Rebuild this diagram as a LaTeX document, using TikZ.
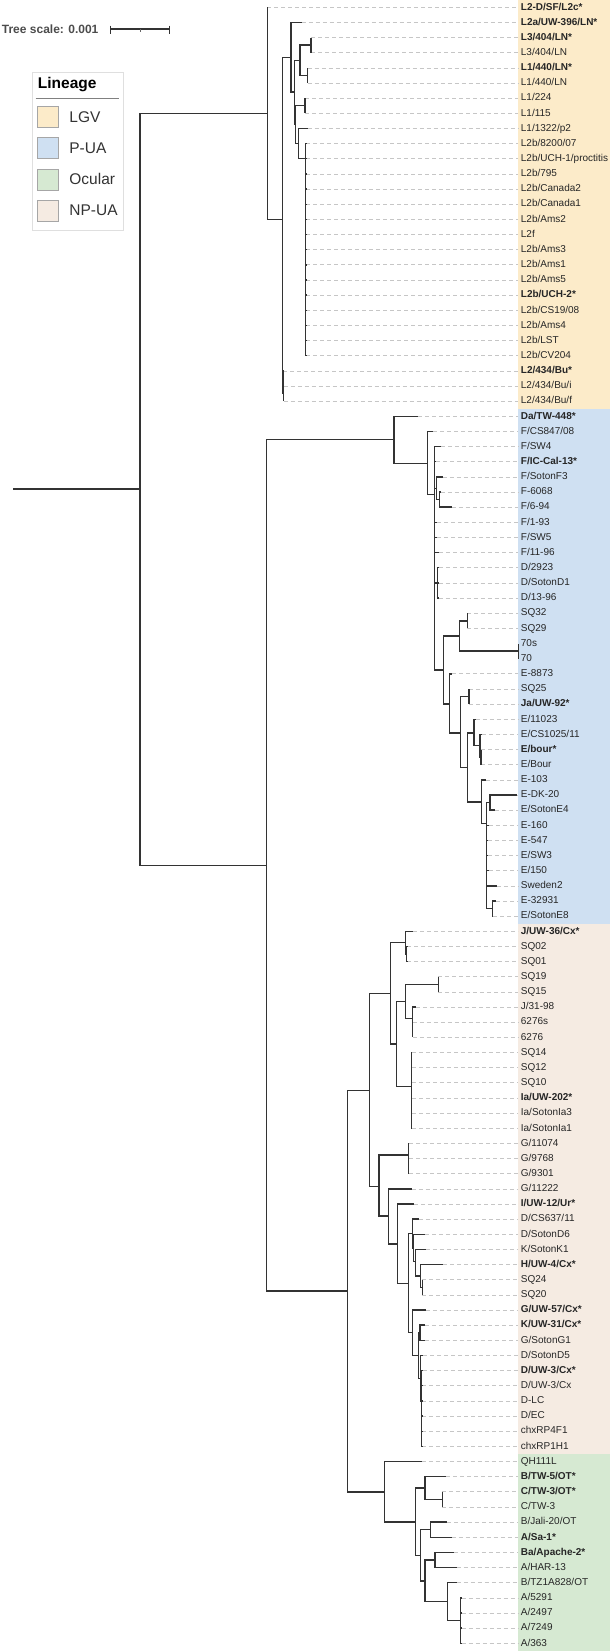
\documentclass[tikz,border=0pt]{standalone}
\usepackage{fontspec}
\setmainfont{Liberation Sans}
\usetikzlibrary{positioning}
\definecolor{lgvcol}{HTML}{FCEBC9}
\definecolor{puacol}{HTML}{CFE0F2}
\definecolor{occol}{HTML}{D6E9D2}
\definecolor{npcol}{HTML}{F5EBE2}
\tikzset{br/.style={line width=1.4pt,black!80},
  lead/.style={gray!45,line width=0.7pt,dash pattern=on 4pt off 3pt},
  lab/.style={anchor=west,inner sep=0pt,inner xsep=2.4pt,text height=7.5pt,text depth=2pt,font=\fontsize{10}{12}\selectfont,text=black!85},
  swatch/.style={draw=gray!70,fill=#1,minimum size=21pt,inner sep=0pt},
  legtext/.style={anchor=west,inner sep=0pt,font=\fontsize{15.5}{18}\selectfont,text=black!80}}
\newcommand{\taxon}[3]{\coordinate (t#1) at (#2,#1);
  \node[lab] (l#1) at (518.3,#1) {#3};
  \draw[lead] (t#1) -- (l#1.west);}
\newcommand{\clade}[2]{\foreach \kid in {#2} {\draw[br] (#1) |- (\kid);}}
\newcommand{\fan}[3]{\foreach \k in {#2,...,#3} {\draw[br] (#1) |- (t\k);}}

\begin{document}
\begin{tikzpicture}[x=1pt,y=-1pt]
\useasboundingbox (0,0) rectangle (610,1652);
\fill[lgvcol] (518.3,0) rectangle (609.5,408.5);
\fill[puacol] (518.3,408.5) rectangle (609.5,923.8);
\fill[npcol] (518.3,923.8) rectangle (609.5,1453.9);
\fill[occol] (518.3,1453.9) rectangle (609.5,1651);

\node[anchor=west,inner sep=0pt,font=\bfseries\fontsize{12}{14}\selectfont,text=black!70] (scaletxt) at (1.7,29) {Tree scale: 0.001};
\coordinate (sb0) at (110.7,29.3);
\coordinate (sb1) at (169.3,29.3);
\draw[line width=1.7pt,black!80] (sb0) -- (sb1);
\draw[line width=1.2pt,black!80] (110.7,25.5) -- (110.7,33.5);
\draw[line width=1.2pt,black!80] (169.3,25.5) -- (169.3,33.5);
\draw[line width=0.8pt,black!60] (140,29.3) -- (140,31.7);

\draw[gray!25,fill=white] (32.3,72.3) rectangle (123.3,230);
\node[anchor=west,inner sep=0pt,font=\bfseries\fontsize{15.5}{18}\selectfont] (legtitle) at (37.7,85) {Lineage};
\draw[gray,line width=1pt] (35.7,98.7) -- (119.3,98.7);
\node[swatch=lgvcol] (sw1) at (47.8,116.7) {};
\node[swatch=puacol] (sw2) at (47.8,147.8) {};
\node[swatch=occol] (sw3) at (47.8,179.2) {};
\node[swatch=npcol] (sw4) at (47.8,210.5) {};
\node[legtext,right=10.7pt of sw1] (lg1) {LGV};
\node[legtext,right=10.7pt of sw2] (lg2) {P-UA};
\node[legtext,right=10.7pt of sw3] (lg3) {Ocular};
\node[legtext,right=10.7pt of sw4] (lg4) {NP-UA};

\begin{scope}[y=-15.148pt,yshift=-7.3pt]
\taxon{0}{267.3}{\textbf{L2-D/SF/L2c*}}
\taxon{1}{301.7}{\textbf{L2a/UW-396/LN*}}
\taxon{2}{311}{\textbf{L3/404/LN*}}
\taxon{3}{311}{L3/404/LN}
\taxon{4}{307.7}{\textbf{L1/440/LN*}}
\taxon{5}{307.7}{L1/440/LN}
\taxon{6}{305}{L1/224}
\taxon{7}{305}{L1/115}
\taxon{8}{307.7}{L1/1322/p2}
\taxon{9}{306}{L2b/8200/07}
\taxon{10}{306}{L2b/UCH-1/proctitis}
\taxon{11}{306}{L2b/795}
\taxon{12}{306}{L2b/Canada2}
\taxon{13}{306}{L2b/Canada1}
\taxon{14}{306}{L2b/Ams2}
\taxon{15}{306}{L2f}
\taxon{16}{306}{L2b/Ams3}
\taxon{17}{306}{L2b/Ams1}
\taxon{18}{306}{L2b/Ams5}
\taxon{19}{306}{\textbf{L2b/UCH-2*}}
\taxon{20}{306}{L2b/CS19/08}
\taxon{21}{306}{L2b/Ams4}
\taxon{22}{306}{L2b/LST}
\taxon{23}{306}{L2b/CV204}
\taxon{24}{283}{\textbf{L2/434/Bu*}}
\taxon{25}{283.5}{L2/434/Bu/i}
\taxon{26}{283.5}{L2/434/Bu/f}
\taxon{27}{418.3}{\textbf{Da/TW-448*}}
\taxon{28}{433.3}{F/CS847/08}
\taxon{29}{441}{F/SW4}
\taxon{30}{436}{\textbf{F/IC-Cal-13*}}
\taxon{31}{442.7}{F/SotonF3}
\taxon{32}{440.7}{F-6068}
\taxon{33}{451.7}{F/6-94}
\taxon{34}{437}{F/1-93}
\taxon{35}{437}{F/SW5}
\taxon{36}{439}{F/11-96}
\taxon{37}{439}{D/2923}
\taxon{38}{438.5}{D/SotonD1}
\taxon{39}{438.5}{D/13-96}
\taxon{40}{467.3}{SQ32}
\taxon{41}{467.3}{SQ29}
\taxon{42}{518.3}{70s}
\taxon{43}{518.3}{70}
\taxon{44}{452}{E-8873}
\taxon{45}{469}{SQ25}
\taxon{46}{469}{\textbf{Ja/UW-92*}}
\taxon{47}{475.7}{E/11023}
\taxon{48}{482.3}{E/CS1025/11}
\taxon{49}{481}{\textbf{E/bour*}}
\taxon{50}{481}{E/Bour}
\taxon{51}{486}{E-103}
\taxon{52}{516.7}{E-DK-20}
\taxon{53}{495}{E/SotonE4}
\taxon{54}{488.5}{E-160}
\taxon{55}{488}{E-547}
\taxon{56}{488}{E/SW3}
\taxon{57}{489}{E/150}
\taxon{58}{496.7}{Sweden2}
\taxon{59}{496}{E-32931}
\taxon{60}{493}{E/SotonE8}
\taxon{61}{413.3}{\textbf{J/UW-36/Cx*}}
\taxon{62}{407}{SQ02}
\taxon{63}{407}{SQ01}
\taxon{64}{438.3}{SQ19}
\taxon{65}{438.3}{SQ15}
\taxon{66}{416}{J/31-98}
\taxon{67}{412.7}{6276s}
\taxon{68}{412.7}{6276}
\taxon{69}{412}{SQ14}
\taxon{70}{412}{SQ12}
\taxon{71}{412}{SQ10}
\taxon{72}{412}{\textbf{Ia/UW-202*}}
\taxon{73}{412.3}{Ia/SotonIa3}
\taxon{74}{412.3}{Ia/SotonIa1}
\taxon{75}{409}{G/11074}
\taxon{76}{409}{G/9768}
\taxon{77}{409}{G/9301}
\taxon{78}{411.7}{G/11222}
\taxon{79}{414}{\textbf{I/UW-12/Ur*}}
\taxon{80}{419}{D/CS637/11}
\taxon{81}{425}{D/SotonD6}
\taxon{82}{425.7}{K/SotonK1}
\taxon{83}{443.3}{\textbf{H/UW-4/Cx*}}
\taxon{84}{422.3}{SQ24}
\taxon{85}{422.3}{SQ20}
\taxon{86}{425.7}{\textbf{G/UW-57/Cx*}}
\taxon{87}{425}{\textbf{K/UW-31/Cx*}}
\taxon{88}{425}{G/SotonG1}
\taxon{89}{423.3}{D/SotonD5}
\taxon{90}{422.5}{\textbf{D/UW-3/Cx*}}
\taxon{91}{422}{D/UW-3/Cx}
\taxon{92}{422}{D-LC}
\taxon{93}{422}{D/EC}
\taxon{94}{422}{chxRP4F1}
\taxon{95}{422}{chxRP1H1}
\taxon{96}{421.7}{QH111L}
\taxon{97}{446}{\textbf{B/TW-5/OT*}}
\taxon{98}{442.3}{\textbf{C/TW-3/OT*}}
\taxon{99}{442.3}{C/TW-3}
\taxon{100}{447.3}{B/Jali-20/OT}
\taxon{101}{451.7}{\textbf{A/Sa-1*}}
\taxon{102}{454}{\textbf{Ba/Apache-2*}}
\taxon{103}{456.7}{A/HAR-13}
\taxon{104}{456.7}{B/TZ1A828/OT}
\taxon{105}{461.7}{A/5291}
\taxon{106}{461.7}{A/2497}
\taxon{107}{461.7}{A/7249}
\taxon{108}{461.7}{A/363}

\coordinate (rt0) at (13.3,31.8);
\coordinate (root) at (140,31.8);
\coordinate (M) at (266.7,56.65);
\coordinate (lgv) at (267.3,7.0);
\coordinate (lgvA) at (282.3,14.0);
\coordinate (lgvB) at (291,3.3);
\coordinate (lgvE) at (294.3,5.6);
\coordinate (lgvF) at (300,3.5);
\coordinate (lgvH) at (311,2.5);
\coordinate (lgvI) at (307.7,4.5);
\coordinate (lgvG) at (295.7,7.75);
\coordinate (lgvP) at (305,6.5);
\coordinate (lgvK) at (298.3,9.0);
\coordinate (lgvL) at (305.7,10.0);
\coordinate (lgvC) at (282.8,24.75);
\coordinate (lgvD) at (283.5,25.5);
\coordinate (pua) at (394,28.55);
\coordinate (puQ) at (427.3,30.1);
\coordinate (puS) at (434.3,32.15);
\coordinate (puT) at (436.7,31.75);
\coordinate (puT2) at (439.3,32.5);
\coordinate (puU) at (437.5,38);
\coordinate (puV) at (443.3,43.75);
\coordinate (puW) at (459.3,41.5);
\coordinate (puW1) at (467.3,40.5);
\coordinate (puW2) at (518.3,42.5);
\coordinate (puX) at (449.3,46.0);
\coordinate (puY) at (460.7,47.9);
\coordinate (puZ) at (469,45.5);
\coordinate (puAA) at (467.3,50.2);
\coordinate (puAB) at (474,47.9);
\coordinate (puAB2) at (480,48.75);
\coordinate (puAB3) at (481,49.5);
\coordinate (puAC) at (481.7,52.45);
\coordinate (puAD) at (486.5,53.9);
\coordinate (puAE) at (490,52.5);
\coordinate (puAF) at (492.3,59.5);
\coordinate (npo) at (347.3,84.75);
\coordinate (np) at (369.3,71.5);
\coordinate (npA) at (390.7,65.1);
\coordinate (npC) at (405.7,61.75);
\coordinate (npC2) at (406.7,62.5);
\coordinate (npD) at (396.7,68.45);
\coordinate (npE) at (405.7,65.65);
\coordinate (npE1) at (438.3,64.5);
\coordinate (npG) at (412.3,66.75);
\coordinate (npG2) at (412.7,67.5);
\coordinate (npF) at (411.3,71.26);
\coordinate (npB) at (379,77.85);
\coordinate (npH) at (408.3,75.77);
\coordinate (npI) at (388.3,79.8);
\coordinate (npJ) at (397.7,81.65);
\coordinate (npK) at (408.3,84.25);
\coordinate (npL) at (412.7,80.95);
\coordinate (npN) at (413.7,81.9);
\coordinate (npO) at (415.7,82.8);
\coordinate (npP) at (420.7,83.75);
\coordinate (npQ) at (422.3,84.5);
\coordinate (npM) at (412.3,87.5);
\coordinate (npR) at (418.3,89);
\coordinate (npS) at (420,87.5);
\coordinate (npT) at (420.7,90.5);
\coordinate (npT2) at (421.7,92);
\coordinate (oc) at (384.3,98);
\coordinate (ocD) at (415.7,100);
\coordinate (ocE) at (425,97.75);
\coordinate (ocE2) at (442.3,98.5);
\coordinate (ocF) at (420.7,102.2);
\coordinate (ocG) at (430.7,100.5);
\coordinate (ocH) at (425,103.9);
\coordinate (ocI) at (435,102.5);
\coordinate (ocJ) at (447.3,105.25);
\coordinate (ocK) at (460.5,106.5);

\draw[br] (rt0) -- (root);
\clade{root}{lgv,M}
\clade{lgv}{t0,lgvA}
\clade{lgvA}{lgvB,lgvC}
\clade{lgvB}{t1,lgvE}
\clade{lgvE}{lgvF,lgvG}
\clade{lgvF}{lgvH,lgvI}
\clade{lgvH}{t2,t3}
\clade{lgvI}{t4,t5}
\clade{lgvG}{lgvP,lgvK}
\clade{lgvP}{t6,t7}
\clade{lgvK}{t8,lgvL}
\fan{lgvL}{9}{23}
\clade{lgvC}{t24,lgvD}
\clade{lgvD}{t25,t26}
\clade{M}{pua,npo}
\clade{pua}{t27,puQ}
\clade{puQ}{t28,puS}
\clade{puS}{t29,t30,puT,t34,t35,t36,puU,puV}
\clade{puT}{t31,puT2}
\clade{puT2}{t32,t33}
\clade{puU}{t37,t38,t39}
\clade{puV}{puW,puX}
\clade{puW}{puW1,puW2}
\clade{puW1}{t40,t41}
\clade{puW2}{t42,t43}
\clade{puX}{t44,puY}
\clade{puY}{puZ,puAA}
\clade{puZ}{t45,t46}
\clade{puAA}{puAB,puAC}
\clade{puAB}{t47,puAB2}
\clade{puAB2}{t48,puAB3}
\clade{puAB3}{t49,t50}
\clade{puAC}{t51,puAD}
\clade{puAD}{puAE,t54,t55,t56,t57,t58,puAF}
\clade{puAE}{t52,t53}
\clade{puAF}{t59,t60}
\clade{npo}{np,oc}
\clade{np}{npA,npB}
\clade{npA}{npC,npD}
\clade{npC}{t61,npC2}
\clade{npC2}{t62,t63}
\clade{npD}{npE,npF}
\clade{npE}{npE1,npG}
\clade{npE1}{t64,t65}
\clade{npG}{t66,npG2}
\clade{npG2}{t67,t68}
\fan{npF}{69}{74}
\clade{npB}{npH,npI}
\fan{npH}{75}{77}
\clade{npI}{t78,npJ}
\clade{npJ}{t79,npK}
\clade{npK}{npL,npM}
\clade{npL}{t80,npN}
\clade{npN}{t81,npO}
\clade{npO}{t82,npP}
\clade{npP}{t83,npQ}
\clade{npQ}{t84,t85}
\clade{npM}{t86,npR}
\clade{npR}{npS,npT}
\clade{npS}{t87,t88}
\clade{npT}{t89,npT2}
\fan{npT2}{90}{95}
\clade{oc}{t96,ocD}
\clade{ocD}{ocE,ocF}
\clade{ocE}{t97,ocE2}
\clade{ocE2}{t98,t99}
\clade{ocF}{ocG,ocH}
\clade{ocG}{t100,t101}
\clade{ocH}{ocI,ocJ}
\clade{ocI}{t102,t103}
\clade{ocJ}{t104,ocK}
\fan{ocK}{105}{108}
\end{scope}
\end{tikzpicture}
\end{document}
